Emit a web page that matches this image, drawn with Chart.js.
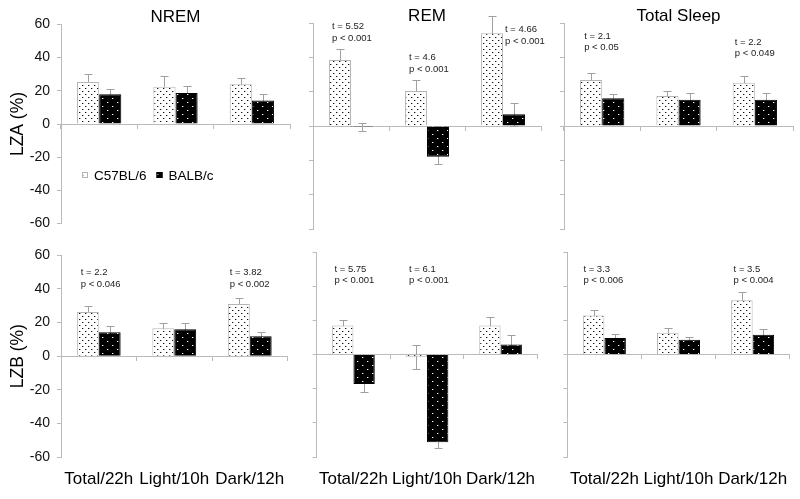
<!DOCTYPE html>
<html>
<head>
<meta charset="utf-8">
<script src="https://cdn.jsdelivr.net/npm/chart.js@4.4.1/dist/chart.umd.min.js"></script>
<style>
  html, body { margin: 0; padding: 0; background: #fff; }
  #figure { position: relative; width: 800px; height: 499px; overflow: hidden; }
  #figure canvas { position: absolute; }
</style>
</head>
<body>
<div id="figure"></div>
<script>
// Six small bar panels (LZA / LZB x NREM / REM / Total Sleep), two strains
// each, mean +/- SEM, with t / p annotations over the significant pairs.

const categories = ['Total/22h', 'Light/10h', 'Dark/12h'];
const strains = ['C57BL/6', 'BALB/c'];
const stages = ['NREM', 'REM', 'Total Sleep'];
const measures = ['LZA (%)', 'LZB (%)'];

// LZA
const lzaNremC57 = [25.3, 22.4, 23.9];
const lzaNremC57Err = [4.7, 6.4, 3.7];
const lzaNremBalb = [17.9, 18.7, 14.2];
const lzaNremBalbErr = [3.3, 4.3, 3.9];
const lzaNremStats = [null, null, null];

const lzaRemC57 = [38.5, 20.4, 54];
const lzaRemC57Err = [6.4, 6.4, 10];
const lzaRemBalb = [-0.6, -17.9, 6.8];
const lzaRemBalbErr = [2.1, 4.5, 6.6];
const lzaRemStats = [['t = 5.52', 'p < 0.001'], ['t = 4.6', 'p < 0.001'], ['t = 4.66', 'p < 0.001']];

const lzaTotalC57 = [26.8, 17.5, 25.2];
const lzaTotalC57Err = [4.3, 3.1, 4];
const lzaTotalBalb = [16.1, 15.3, 15.3];
const lzaTotalBalbErr = [2.7, 3.9, 3.9];
const lzaTotalStats = [['t = 2.1', 'p < 0.05'], null, ['t = 2.2', 'p < 0.049']];

// LZB
const lzbNremC57 = [26.3, 16.6, 31];
const lzbNremC57Err = [3.5, 3.3, 3.7];
const lzbNremBalb = [14.2, 16, 11.9];
const lzbNremBalbErr = [3.7, 3.9, 2.7];
const lzbNremStats = [['t = 2.2', 'p < 0.046'], null, ['t = 3.82', 'p < 0.002']];

const lzbRemC57 = [17, -1.3, 17];
const lzbRemC57Err = [3.3, 7.1, 5];
const lzbRemBalb = [-17.2, -51.3, 5.8];
const lzbRemBalbErr = [4.8, 3.5, 5.7];
const lzbRemStats = [['t = 5.75', 'p < 0.001'], ['t = 6.1', 'p < 0.001'], null];

const lzbTotalC57 = [22.8, 12.7, 31.8];
const lzbTotalC57Err = [3.3, 2.7, 4.7];
const lzbTotalBalb = [9.6, 8.6, 11.5];
const lzbTotalBalbErr = [2.5, 1.9, 3.3];
const lzbTotalStats = [['t = 3.3', 'p < 0.006'], null, ['t = 3.5', 'p < 0.004']];

const panels = [
  { row: 0, col: 0, c57: lzaNremC57, c57Err: lzaNremC57Err, balb: lzaNremBalb, balbErr: lzaNremBalbErr, stats: lzaNremStats },
  { row: 0, col: 1, c57: lzaRemC57, c57Err: lzaRemC57Err, balb: lzaRemBalb, balbErr: lzaRemBalbErr, stats: lzaRemStats },
  { row: 0, col: 2, c57: lzaTotalC57, c57Err: lzaTotalC57Err, balb: lzaTotalBalb, balbErr: lzaTotalBalbErr, stats: lzaTotalStats },
  { row: 1, col: 0, c57: lzbNremC57, c57Err: lzbNremC57Err, balb: lzbNremBalb, balbErr: lzbNremBalbErr, stats: lzbNremStats },
  { row: 1, col: 1, c57: lzbRemC57, c57Err: lzbRemC57Err, balb: lzbRemBalb, balbErr: lzbRemBalbErr, stats: lzbRemStats },
  { row: 1, col: 2, c57: lzbTotalC57, c57Err: lzbTotalC57Err, balb: lzbTotalBalb, balbErr: lzbTotalBalbErr, stats: lzbTotalStats }
];

// Layout: plot-area spans in page pixels, and where each t/p note sits
// (first-line value on the y axis, pixel shift from the category centre).
const colSpan = [[61, 290], [313, 541], [564, 793]];
const rowSpan = [[23, 229], [252, 457]];
const statAnchors = [
  null,
  { y: [58, 40, 56], dx: [-19, -18, 2] },
  { y: [52.5, 0, 49], dx: [-18, 0, -20] },
  { y: [50, 0, 50], dx: [-18, 0, -20] },
  { y: [50, 50, 0], dx: [-19, -18, 0] },
  { y: [50, 0, 50], dx: [-21, 0, -19] }
];

const FONT = 'Arial, "Liberation Sans", sans-serif';
Chart.defaults.font.family = FONT;
Chart.defaults.color = '#000';

// Small repeating dot tile; each dot gets a faint right-hand halo so the
// texture reads like the scanned hatch fill.
function dotPattern(bg, fg, halo, w, h, dots) {
  const tile = document.createElement('canvas');
  tile.width = w;
  tile.height = h;
  const g = tile.getContext('2d');
  g.fillStyle = bg;
  g.fillRect(0, 0, w, h);
  dots.forEach(([x, y]) => {
    g.fillStyle = halo;
    g.fillRect(x + 1, y, 1, 1);
    g.fillStyle = fg;
    g.fillRect(x, y, 1, 1);
  });
  return g.createPattern(tile, 'repeat');
}

const c57Fill = dotPattern('#fff', '#111', '#b0b0b0', 6, 6, [[1, 1], [4, 4]]);
const balbFill = dotPattern('#000', '#fff', '#555', 10, 8, [[2, 1], [7, 5]]);

// SEM whiskers, drawn under the bars so only the outer half shows.
const errorBarPlugin = {
  id: 'errorBars',
  beforeDatasetsDraw(chart) {
    const y = chart.scales.y;
    const ctx = chart.ctx;
    ctx.save();
    ctx.strokeStyle = '#a0a0a0';
    ctx.lineWidth = 1;
    chart.data.datasets.forEach((ds, i) => {
      chart.getDatasetMeta(i).data.forEach((bar, j) => {
        const v = ds.data[j];
        const e = ds.errors[j];
        const top = Math.round(y.getPixelForValue(v + e)) + 0.5;
        const bottom = Math.round(y.getPixelForValue(v - e)) + 0.5;
        const x = Math.round(bar.x) + 0.5;
        ctx.beginPath();
        ctx.moveTo(x, top);
        ctx.lineTo(x, bottom);
        ctx.moveTo(x - 4, top);
        ctx.lineTo(x + 4, top);
        ctx.moveTo(x - 4, bottom);
        ctx.lineTo(x + 4, bottom);
        ctx.stroke();
      });
    });
    ctx.restore();
  }
};

function statsPlugin(stats, anchor) {
  return {
    id: 'stats',
    afterDatasetsDraw(chart) {
      if (!anchor) return;
      const { x, y } = chart.scales;
      const ctx = chart.ctx;
      ctx.save();
      ctx.fillStyle = '#222';
      ctx.font = '9.5px ' + FONT;
      ctx.textAlign = 'left';
      ctx.textBaseline = 'middle';
      stats.forEach((lines, i) => {
        if (!lines) return;
        const px = x.getPixelForValue(i) + anchor.dx[i];
        const py = y.getPixelForValue(anchor.y[i]);
        lines.forEach((text, k) => ctx.fillText(text, px, py + k * 11.7));
      });
      ctx.restore();
    }
  };
}

// Legend sitting inside the first panel, below the zero line.
const insetLegendPlugin = {
  id: 'insetLegend',
  afterDatasetsDraw(chart) {
    const { left } = chart.chartArea;
    const py = Math.round(chart.scales.y.getPixelForValue(-30.5));
    const ctx = chart.ctx;
    ctx.save();
    ctx.font = '13.5px ' + FONT;
    ctx.textBaseline = 'middle';
    ctx.textAlign = 'left';
    let px = left + 21;
    chart.data.datasets.forEach((ds) => {
      ctx.fillStyle = ds.backgroundColor;
      ctx.fillRect(px, py - 3, 6, 6);
      ctx.strokeStyle = ds.borderColor;
      ctx.lineWidth = 1;
      ctx.strokeRect(px + 0.5, py - 2.5, 5, 5);
      ctx.fillStyle = '#000';
      ctx.fillText(ds.label, px + 12, py + 1);
      px += 12 + ctx.measureText(ds.label).width + 10;
    });
    ctx.restore();
  }
};

const figure = document.getElementById('figure');

panels.forEach((p, index) => {
  const [plotLeft, plotRight] = colSpan[p.col];
  const [plotTop, plotBottom] = rowSpan[p.row];
  const axisW = p.col === 0 ? plotLeft : 8;
  const rightPad = 8;
  const topPad = p.row === 0 ? 14 : 12;
  const bottomPad = p.row === 0 ? 10 : 30;
  const showLabels = p.row === 1;

  const canvas = document.createElement('canvas');
  const w = axisW + (plotRight - plotLeft) + rightPad;
  const h = topPad + (plotBottom - plotTop) + bottomPad;
  canvas.width = w;
  canvas.height = h;
  canvas.style.width = w + 'px';
  canvas.style.height = h + 'px';
  canvas.style.left = (plotLeft - axisW) + 'px';
  canvas.style.top = (plotTop - topPad) + 'px';
  figure.append(canvas);

  const plugins = [errorBarPlugin, statsPlugin(p.stats, statAnchors[index])];
  if (index === 0) plugins.push(insetLegendPlugin);

  const chart = new Chart(canvas.getContext('2d'), {
    type: 'bar',
    data: {
      labels: categories,
      datasets: [
        {
          label: strains[0],
          data: p.c57,
          errors: p.c57Err,
          backgroundColor: c57Fill,
          borderColor: '#b5b5b5',
          borderWidth: 1
        },
        {
          label: strains[1],
          data: p.balb,
          errors: p.balbErr,
          backgroundColor: balbFill,
          borderColor: '#000',
          borderWidth: 1
        }
      ]
    },
    options: {
      responsive: false,
      animation: false,
      events: [],
      datasets: { bar: { barPercentage: 1, categoryPercentage: 0.58 } },
      layout: {
        padding: {
          left: 0,
          right: rightPad,
          top: p.row === 0 ? 0 : topPad,
          bottom: showLabels ? 0 : bottomPad
        }
      },
      plugins: {
        legend: { display: false },
        tooltip: { enabled: false },
        title: {
          display: p.row === 0,
          text: stages[p.col],
          fullSize: false,
          color: '#000',
          font: { size: 17, weight: 'normal', lineHeight: topPad / 17 },
          padding: 0
        }
      },
      scales: {
        x: {
          type: 'category',
          position: { y: 0 },
          offset: true,
          ticks: { display: false },
          grid: {
            offset: true,
            drawOnChartArea: false,
            drawTicks: true,
            tickLength: 4,
            color: '#bbb'
          },
          border: { display: true, color: '#bbb' }
        },
        x2: {
          type: 'category',
          axis: 'x',
          position: 'bottom',
          display: showLabels,
          offset: true,
          grid: { display: false, drawTicks: false },
          border: { display: false },
          ticks: { color: '#000', font: { size: 17 }, padding: 12, maxRotation: 0, autoSkip: false },
          afterFit: (scale) => { scale.height = showLabels ? bottomPad : 0; }
        },
        y: {
          min: -60,
          max: 60,
          ticks: {
            display: p.col === 0,
            stepSize: 20,
            color: '#111',
            font: { size: 14 },
            padding: 7
          },
          grid: {
            drawOnChartArea: false,
            drawTicks: true,
            tickLength: 4,
            color: '#bbb'
          },
          border: { display: true, color: '#bbb' },
          title: {
            display: p.col === 0,
            text: measures[p.row],
            color: '#000',
            font: { size: 17.5 },
            padding: { top: 8, bottom: 0 }
          },
          afterFit: (scale) => { scale.width = axisW; }
        }
      }
    },
    plugins
  });

  // Nudge the layout padding so the plot area lands exactly on its span.
  const area = chart.chartArea;
  const wantTop = topPad;
  const wantBottom = topPad + (plotBottom - plotTop);
  const pad = chart.options.layout.padding;
  const dTop = area.top - wantTop;
  const dBottom = wantBottom - area.bottom;
  if (Math.abs(dTop) > 0.5 || Math.abs(dBottom) > 0.5) {
    if (p.row === 1) pad.top -= dTop;
    pad.bottom -= dBottom;
    chart.update();
  }
});
</script>
</body>
</html>
